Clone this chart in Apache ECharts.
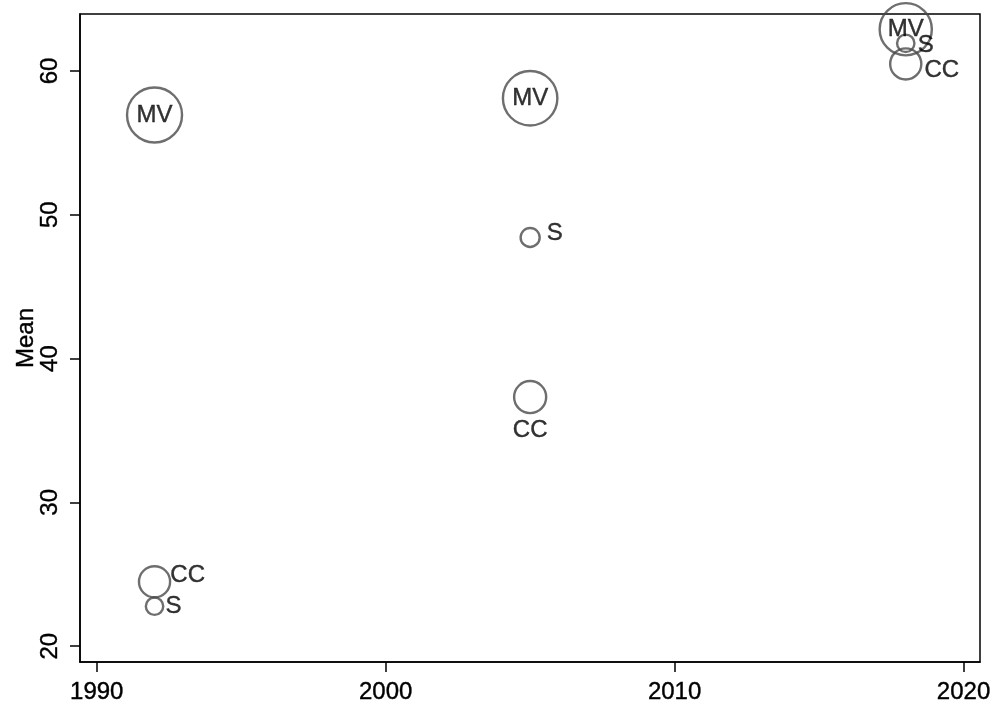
<!DOCTYPE html>
<html>
<head>
<meta charset="utf-8">
<script src="https://cdn.jsdelivr.net/npm/echarts@6/dist/echarts.min.js"></script>
<style>
  html, body { margin: 0; padding: 0; background: #fff; }
  #chart { width: 995px; height: 707px; }
</style>
</head>
<body>
<div id="chart"></div>
<script>
// Survey years and group means
const years = [1992, 2005, 2018];
const groups = ['MV', 'CC', 'S'];
const meanMV = [56.94, 58.10, 62.90];
const meanCC = [24.48, 37.32, 60.49];
const meanS = [22.78, 48.42, 61.92];
// Analytic weights (bubble area)
const weightMV = [100, 98, 90];
const weightCC = [32, 34, 32];
const weightS = [10, 12, 10];

const xTicks = [1990, 2000, 2010, 2020];
const yTicks = [20, 30, 40, 50, 60];

const means = { MV: meanMV, CC: meanCC, S: meanS };
const weights = { MV: weightMV, CC: weightCC, S: weightS };

// Label placement for each group/year
const labelPlacement = {
  MV: [
    { position: 'inside' },
    { position: 'inside' },
    { position: 'inside' }
  ],
  CC: [
    { position: 'right', distance: 0, offset: [-1, -6] },
    { position: 'bottom', distance: 4, offset: [0, 0] },
    { position: 'right', distance: 2, offset: [0, 6] }
  ],
  S: [
    { position: 'right', distance: 1, offset: [0, 0] },
    { position: 'right', distance: 6, offset: [0, -4] },
    { position: 'right', distance: 2, offset: [0, 2] }
  ]
};

const FONT = 'Liberation Sans, Arial, Helvetica, sans-serif';
// shared text look: solid black, slightly heavier stroke
const TEXT = { color: '#000', fontSize: 24, fontFamily: FONT, textBorderColor: '#000', textBorderWidth: 0.4 };

const series = groups.map(g => ({
  type: 'scatter',
  name: g,
  clip: false,
  symbol: 'circle',
  itemStyle: { color: 'rgba(0,0,0,0)', borderColor: '#4a4a4a', borderWidth: 2.4 },
  emphasis: { disabled: true },
  data: years.map((yr, i) => ({
    value: [yr, means[g][i]],
    symbolSize: 5.5 * Math.sqrt(weights[g][i]),
    label: Object.assign({ show: true, formatter: g }, TEXT, labelPlacement[g][i])
  }))
}));

const chart = echarts.init(document.getElementById('chart'), null, { renderer: 'canvas' });
chart.setOption({
  animation: false,
  backgroundColor: '#fff',
  textStyle: { color: '#000', fontFamily: FONT },
  grid: {
    left: 80, right: 15, top: 14, bottom: 45,
    show: true, borderColor: '#000', borderWidth: 1.5, backgroundColor: 'transparent'
  },
  xAxis: {
    type: 'value',
    min: 1989.42,
    max: 2020.57,
    axisLine: { show: true, onZero: false, lineStyle: { color: '#000', width: 1.5 } },
    axisTick: { show: true, length: 10, lineStyle: { color: '#000', width: 1.5 }, customValues: xTicks },
    axisLabel: Object.assign({
      show: true, customValues: xTicks, margin: 18,
      formatter: v => String(v)
    }, TEXT),
    splitLine: { show: false }
  },
  yAxis: {
    type: 'value',
    min: 18.90,
    max: 63.96,
    name: 'Mean',
    nameLocation: 'middle',
    nameGap: 42,
    nameMoveOverlap: false,
    nameRotate: 90,
    nameTextStyle: Object.assign({}, TEXT),
    axisLine: { show: true, onZero: false, lineStyle: { color: '#000', width: 1.5 } },
    axisTick: { show: true, length: 10, lineStyle: { color: '#000', width: 1.5 }, customValues: yTicks },
    axisLabel: Object.assign({
      show: true, customValues: yTicks, rotate: 90, margin: 18,
      formatter: v => String(v)
    }, TEXT),
    splitLine: { show: false }
  },
  series: series
});
</script>
</body>
</html>
